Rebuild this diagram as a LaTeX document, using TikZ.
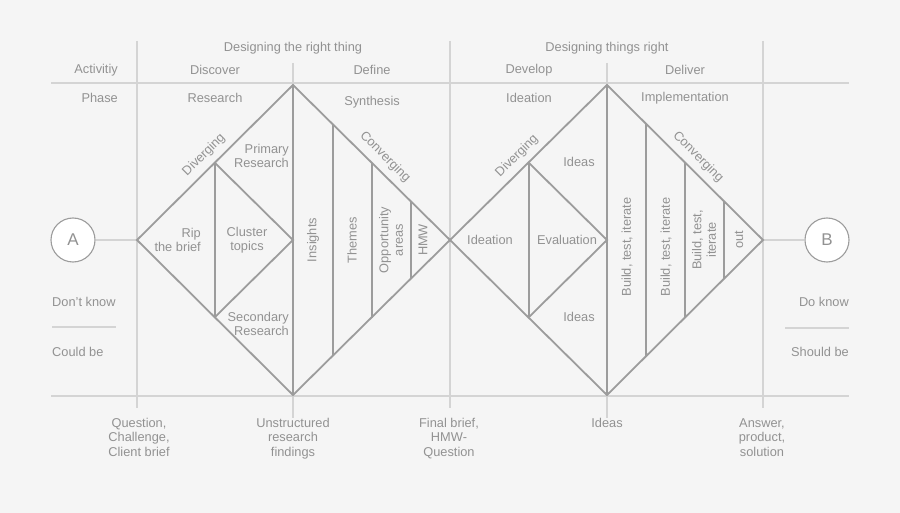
\documentclass[tikz,border=0pt]{standalone}
\usepackage{fontspec}
\setmainfont{Liberation Sans}
\begin{document}
\begin{tikzpicture}[x=1pt,y=-1pt,
  grid/.style={draw=gridc,line width=1.1pt},
  dia/.style={draw=diac,line width=1.8pt,line join=miter},
  lbl/.style={text=txtc,font=\fontsize{12.8}{14.5}\selectfont,inner sep=0pt,align=center},
  lblr/.style={lbl,anchor=east,align=right},
  lbll/.style={lbl,anchor=west,align=left},
  circ/.style={circle,draw=diac,fill=white,line width=1.1pt,minimum size=44pt,inner sep=0pt,text=txtc,font=\fontsize{17}{19}\selectfont}
]
\definecolor{bgc}{HTML}{F5F5F5}
\definecolor{gridc}{HTML}{D4D4D4}
\definecolor{diac}{HTML}{9C9C9C}
\definecolor{txtc}{HTML}{929292}
\fill[bgc] (0,0) rectangle (900,513);
\useasboundingbox (0,0) rectangle (900,513);
% grid
\draw[grid] (51,83) -- (849,83);
\draw[grid] (51,396) -- (849,396);
\draw[grid] (137,41) -- (137,408);
\draw[grid] (450,41) -- (450,408);
\draw[grid] (763,41) -- (763,408);
\draw[grid] (293,63) -- (293,418);
\draw[grid] (607,63) -- (607,418);
\draw[grid] (52,327) -- (116,327);
\draw[grid] (785,328) -- (849,328);
% circles
\node[circ] (A) at (73,240) {A};
\node[circ] (B) at (827,240) {B};
\coordinate (L1) at (137,240);
\coordinate (T1) at (293,85);
\coordinate (R1) at (450,240);
\coordinate (D1) at (293,395);
\coordinate (L2) at (450,240);
\coordinate (T2) at (607,85);
\coordinate (R2) at (763,240);
\coordinate (D2) at (607,395);
\draw[grid] (A) -- (L1);
\draw[grid] (R2) -- (B);
% diamond 1
\draw[dia] (L1) -- (T1) -- (R1) -- (D1) -- cycle;
\draw[dia] (T1) -- (D1);
\draw[dia] (215,163) -- (215,317);
\draw[dia] (215,163) -- (293,240) -- (215,317);
\draw[dia] (333,125) -- (333,355);
\draw[dia] (372,163) -- (372,318);
\draw[dia] (411,202) -- (411,279);
% diamond 2
\draw[dia] (L2) -- (T2) -- (R2) -- (D2) -- cycle;
\draw[dia] (T2) -- (D2);
\draw[dia] (529,163) -- (529,317);
\draw[dia] (529,163) -- (607,240) -- (529,317);
\draw[dia] (646,124) -- (646,356);
\draw[dia] (685,163) -- (685,318);
\draw[dia] (724,202) -- (724,279);
% header texts
\node[lbl] (h1) at (293,48) {Designing the right thing};
\node[lbl] (h2) at (607,48) {Designing things right};
\node[lblr] (act) at (118,70) {Activitiy};
\node[lbl] (disc) at (215,70) {Discover};
\node[lbl] (def) at (372,70) {Define};
\node[lbl] (dev) at (529,70) {Develop};
\node[lbl] (del) at (685,70) {Deliver};
\node[lblr] (ph) at (118,98) {Phase};
\node[lbl] (res) at (215,98) {Research};
\node[lbl] (syn) at (372,102) {Synthesis};
\node[lbl] (ide) at (529,98) {Ideation};
\node[lbl] (imp) at (685,98) {Implementation};
% diamond 1 texts
\node[lbl,rotate=45] (dv1) at (204,155) {Diverging};
\node[lbl,rotate=-45] (cv1) at (385,157) {Converging};
\node[lblr] (pr) at (289,156) {Primary\\Research};
\node[lblr] (rip) at (201,240) {Rip\\the brief};
\node[lbl] (clu) at (247,240) {Cluster\\topics};
\node[lblr] (sec) at (289,324) {Secondary\\Research};
\node[lbl,rotate=90] (ins) at (313,240) {Insights};
\node[lbl,rotate=90] (the) at (352,240) {Themes};
\node[lbl,rotate=90] (opp) at (391,240) {Opportunity\\areas};
\node[lbl,rotate=90] (hmw) at (423,240) {HMW};
% diamond 2 texts
\node[lbl,rotate=45] (dv2) at (517,156) {Diverging};
\node[lbl,rotate=-45] (cv2) at (698,157) {Converging};
\node[lbl] (id1) at (579,162) {Ideas};
\node[lbl] (id2) at (579,317) {Ideas};
\node[lbl] (ideat) at (490,240) {Ideation};
\node[lbl] (eval) at (567,240) {Evaluation};
\node[lbl,rotate=90] (b1) at (627,247) {Build, test, iterate};
\node[lbl,rotate=90] (b2) at (666,247) {Build, test, iterate};
\node[lbl,rotate=90] (b3) at (704,240) {Build, test,\\iterate};
\node[lbl,rotate=90] (out) at (739,240) {out};
% side texts
\node[lbll] (dk) at (52,302) {Don't know};
\node[lbll] (cb) at (52,352) {Could be};
\node[lblr] (dok) at (849,302) {Do know};
\node[lblr] (sb) at (849,352) {Should be};
% bottom texts
\node[lbl,anchor=north] (q) at (139,418) {Question,\\Challenge,\\Client brief};
\node[lbl,anchor=north] (u) at (293,418) {Unstructured\\research\\findings};
\node[lbl,anchor=north] (f) at (449,418) {Final brief,\\HMW-\\Question};
\node[lbl,anchor=north] (i) at (607,418) {Ideas};
\node[lbl,anchor=north] (an) at (762,418) {Answer,\\product,\\solution};
\end{tikzpicture}
\end{document}
